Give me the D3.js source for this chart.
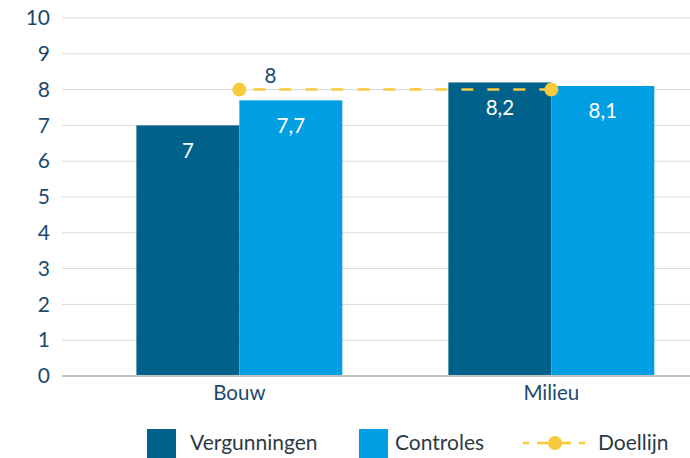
<!DOCTYPE html>
<html>
<head>
<meta charset="utf-8">
<script src="https://cdn.jsdelivr.net/npm/d3@7"></script>
<style>
  body { margin: 0; background: #fff; }
  svg { display: block; font-family: Lato, "Open Sans", sans-serif; }
</style>
</head>
<body>
<svg id="chart" width="690" height="458"></svg>
<script>
// Chart data
const categories = ["Bouw", "Milieu"];
const seriesNames = ["Vergunningen", "Controles"];
const vergunningen = [7, 8.2];
const controles = [7.7, 8.1];
const doellijn = [8, 8];
const yTicks = [0, 1, 2, 3, 4, 5, 6, 7, 8, 9, 10];

const colors = { Vergunningen: "#00618b", Controles: "#009fe3", Doellijn: "#f9c93e" };
const textBlue = "#1c4a6e";

const svg = d3.select("#chart");
const plot = { left: 62, right: 690, top: 18, bottom: 376 };

const y = d3.scaleLinear().domain([0, 10]).range([plot.bottom, plot.top]);
const x0 = d3.scaleBand().domain(categories)
  .range([74, 716.7]).paddingInner(0.34).paddingOuter(0.2);
const x1 = d3.scaleBand().domain(seriesNames).range([0, x0.bandwidth()]);

const fmt = v => String(v).replace(".", ",");

// Gridlines
svg.append("g").selectAll("line").data(yTicks).join("line")
  .attr("x1", plot.left).attr("x2", plot.right)
  .attr("y1", d => y(d)).attr("y2", d => y(d))
  .attr("stroke", d => d === 0 ? "#c4c4c4" : "#d9d9d9")
  .attr("stroke-width", d => d === 0 ? 2 : 1);

// Y axis labels
const yAxis = d3.axisLeft(y).tickValues(yTicks).tickSize(0).tickPadding(0);
const yg = svg.append("g").attr("transform", `translate(${plot.left - 12},0)`).call(yAxis);
yg.select(".domain").remove();
yg.selectAll("text").attr("fill", textBlue).attr("font-size", 21)
  .attr("font-family", "Lato, sans-serif");

// X axis labels
const xAxis = d3.axisBottom(x0).tickSize(0).tickPadding(0);
const xg = svg.append("g").attr("transform", `translate(0,${plot.bottom + 9})`).call(xAxis);
xg.select(".domain").remove();
xg.selectAll("text").attr("fill", textBlue).attr("font-size", 20.5)
  .attr("font-family", "Lato, sans-serif");

// Bars
const rows = categories.map((c, i) => ({
  cat: c,
  vals: [
    { key: "Vergunningen", value: vergunningen[i] },
    { key: "Controles", value: controles[i] }
  ]
}));

const groups = svg.append("g").selectAll("g").data(rows).join("g")
  .attr("transform", d => `translate(${x0(d.cat)},0)`);

groups.selectAll("rect").data(d => d.vals).join("rect")
  .attr("x", d => x1(d.key))
  .attr("y", d => y(d.value))
  .attr("width", x1.bandwidth())
  .attr("height", d => y(0) - y(d.value) - 1)
  .attr("fill", d => colors[d.key]);

groups.selectAll("text").data(d => d.vals).join("text")
  .attr("x", d => x1(d.key) + x1.bandwidth() / 2)
  .attr("y", d => y(d.value) + 25)
  .attr("dy", "0.35em")
  .attr("text-anchor", "middle")
  .attr("fill", "#ffffff")
  .attr("font-size", 20.5)
  .text(d => fmt(d.value));

// Target line
const linePts = categories.map((c, i) => ({ x: x0(c) + x0.bandwidth() / 2, y: y(doellijn[i]), v: doellijn[i] }));
svg.append("path")
  .attr("d", d3.line().x(d => d.x).y(d => d.y)(linePts))
  .attr("fill", "none")
  .attr("stroke", colors.Doellijn)
  .attr("stroke-width", 2.5)
  .attr("stroke-dasharray", "12,14")
  .attr("stroke-dashoffset", -14);

svg.append("g").selectAll("circle").data(linePts).join("circle")
  .attr("cx", d => d.x).attr("cy", d => d.y).attr("r", 7)
  .attr("fill", colors.Doellijn);

svg.append("text")
  .attr("x", linePts[0].x + 31).attr("y", linePts[0].y - 14)
  .attr("dy", "0.35em")
  .attr("text-anchor", "middle")
  .attr("fill", textBlue).attr("font-size", 20.5)
  .text(fmt(doellijn[0]));

// Legend
const legend = svg.append("g").attr("transform", "translate(0,443)");
const items = [
  { name: "Vergunningen", x: 147, tx: 190 },
  { name: "Controles", x: 359, tx: 395 }
];
items.forEach(it => {
  legend.append("rect").attr("x", it.x).attr("y", -14).attr("width", 29).attr("height", 29)
    .attr("fill", colors[it.name]);
  legend.append("text").attr("x", it.tx).attr("y", 0).attr("dy", "0.35em")
    .attr("fill", "#2c3a44").attr("font-size", 21).text(it.name);
});
legend.append("line").attr("x1", 523).attr("x2", 589).attr("y1", 0).attr("y2", 0)
  .attr("stroke", colors.Doellijn).attr("stroke-width", 2.5)
  .attr("stroke-dasharray", "6,8");
legend.append("line").attr("x1", 540).attr("x2", 570).attr("y1", 0).attr("y2", 0)
  .attr("stroke", colors.Doellijn).attr("stroke-width", 2.5);
legend.append("circle").attr("cx", 555).attr("cy", 0).attr("r", 7).attr("fill", colors.Doellijn);
legend.append("text").attr("x", 598).attr("y", 0).attr("dy", "0.35em")
  .attr("fill", "#2c3a44").attr("font-size", 21).text("Doellijn");
</script>
</body>
</html>
